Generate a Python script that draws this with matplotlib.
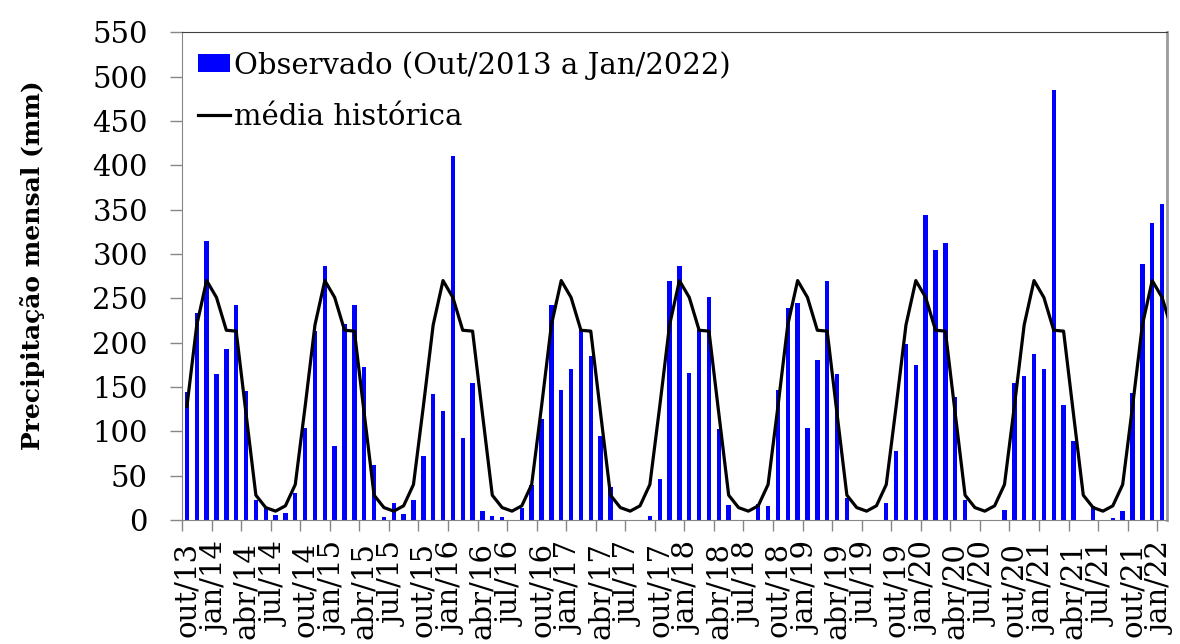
import numpy as np
import matplotlib
matplotlib.use("Agg")
import matplotlib.pyplot as plt

# monthly rainfall, Oct/2013 .. Jan/2022 (mm)
observado = [144, 234, 315, 165, 193, 243, 145, 22, 13, 6, 8, 30,
             104, 213, 286, 84, 221, 243, 172, 62, 3, 19, 7, 22,
             72, 142, 123, 411, 93, 155, 10, 5, 3, 0, 13, 40,
             114, 242, 147, 170, 215, 185, 95, 37, 0, 0, 0, 4,
             46, 269, 286, 166, 215, 252, 103, 17, 0, 0, 18, 16,
             147, 239, 245, 104, 180, 270, 165, 25, 0, 0, 0, 19,
             78, 199, 175, 344, 305, 312, 139, 23, 0, 0, 0, 11,
             154, 162, 187, 170, 485, 130, 89, 0, 16, 0, 2, 10,
             143, 289, 335, 356]

# historical monthly mean, Oct..Sep (mm)
media_mensal = [128, 220, 270, 251, 214, 213, 120, 28, 14, 10, 16, 40]

meses = ['out', 'nov', 'dez', 'jan', 'fev', 'mar',
         'abr', 'mai', 'jun', 'jul', 'ago', 'set']
ano_inicial = 2013

n = len(observado)
rotulos = []
for i in range(n):
    m = meses[i % 12]
    ano = ano_inicial + (i + 9) // 12
    rotulos.append(f"{m}/{ano % 100:02d}")

# mean line runs one month past the last bar (clipped by the axes)
media = np.array(media_mensal * 10)[:n + 1]

plt.rcParams['font.family'] = ['DejaVu Serif']

fig = plt.figure(figsize=(11.8, 6.44), dpi=100)
ax = fig.add_axes([182 / 1180, 1 - 520 / 644, 985 / 1180, (520 - 32.3) / 644])

x = np.arange(n)
barras = ax.bar(x, observado, width=0.45, color='#0000FF',
                label='Observado (Out/2013 a Jan/2022)', zorder=2)
linha, = ax.plot(np.arange(n + 1), media, color='black', lw=2.3,
                 label='média histórica', zorder=3)

ax.set_xlim(-0.5, n - 0.5)
ax.set_ylim(0, 550)
ax.set_yticks(np.arange(0, 551, 50))
ax.tick_params(axis='y', labelsize=21, length=8.5, width=1, color='#868686',
               pad=16)

# labels every 3 months at category centres, tick marks on boundaries
ax.set_xticks(x[::3] - 0.5)
ax.set_xticklabels([])
ax.set_xticks(x[::3], minor=True)
ax.set_xticklabels(rotulos[::3], minor=True, rotation=90, fontsize=21)
ax.tick_params(axis='x', which='major', length=8, width=1, color='#868686')
ax.tick_params(axis='x', which='minor', length=0, pad=16)

ax.spines['left'].set_color('#868686')
ax.spines['bottom'].set_color('#868686')
ax.spines['top'].set_color('#404040')
ax.spines['right'].set_color('#9a9a9a')
ax.spines['right'].set_linewidth(2)

fig.text(33 / 1180, 1 - 265.5 / 644, 'Precipitação mensal (mm)',
         rotation=90, fontsize=18, fontweight='bold', ha='center', va='center')

ax.legend([barras, linha], [barras.get_label(), linha.get_label()],
          loc='upper left', bbox_to_anchor=(0.0, 0.995), frameon=False,
          fontsize=21, handlelength=1.1, handleheight=0.55, handletextpad=0.15,
          labelspacing=0.8, borderaxespad=0.15)

fig.savefig('out.png', dpi=100)
